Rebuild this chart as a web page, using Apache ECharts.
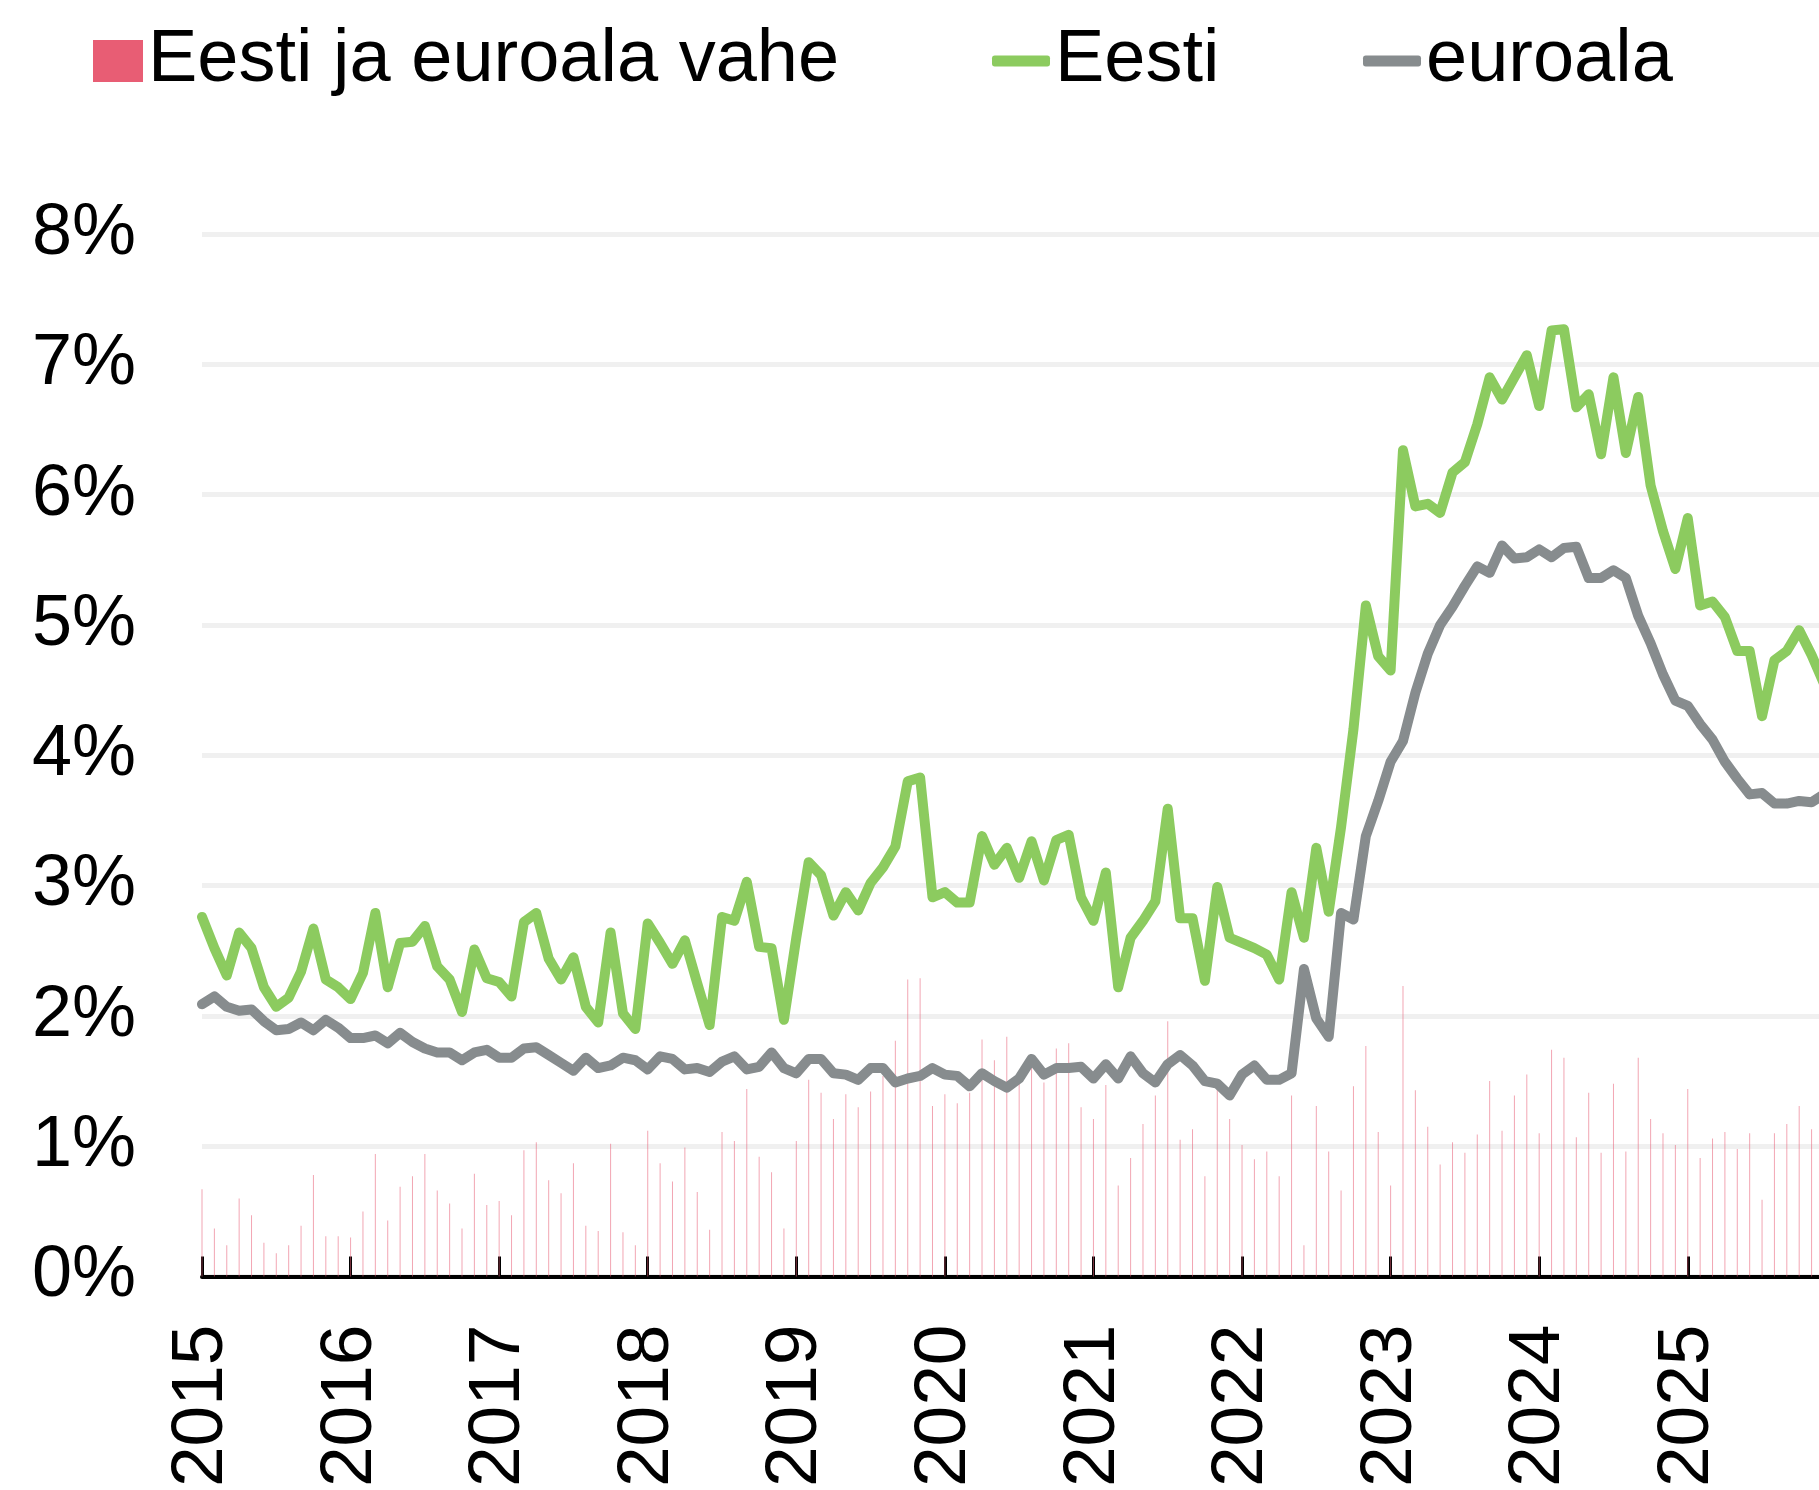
<!DOCTYPE html>
<html lang="et">

<head>
    <meta charset="UTF-8">
    <title>Eesti ja euroala</title>
    <style>
        html,
        body {
            margin: 0;
            padding: 0;
            background: #fff;
        }

        #main {
            width: 1819px;
            height: 1490px;
        }
    </style>
</head>

<body>
    <div id="main"></div>
</body>

<script src="https://cdn.jsdelivr.net/npm/echarts@6.0.0/dist/echarts.min.js"></script>
<script>
    // kuud alates 2015 jaanuarist (0 = jaan 2015)
    var firstYear = 2015;
    var yearTicks = ['2015', '2016', '2017', '2018', '2019', '2020', '2021', '2022', '2023', '2024', '2025'];
    var yTicks = [0, 1, 2, 3, 4, 5, 6, 7, 8];

    // Eesti
    var eesti = [
        2.76, 2.52, 2.31, 2.64, 2.52, 2.22, 2.07, 2.14, 2.34, 2.67, 2.28, 2.22,
        2.13, 2.33, 2.79, 2.22, 2.56, 2.57, 2.69, 2.38, 2.28, 2.03, 2.51, 2.29,
        2.26, 2.15, 2.72, 2.79, 2.44, 2.28, 2.45, 2.07, 1.95, 2.64, 2.02, 1.90,
        2.71, 2.56, 2.40, 2.58, 2.25, 1.93, 2.76, 2.73, 3.03, 2.53, 2.52, 1.97,
        2.60, 3.18, 3.08, 2.77, 2.95, 2.81, 3.02, 3.14, 3.30, 3.80, 3.83, 2.91,
        2.95, 2.87, 2.87, 3.38, 3.16, 3.29, 3.06, 3.34, 3.04, 3.35, 3.39, 2.91,
        2.73, 3.10, 2.22, 2.60, 2.73, 2.88, 3.59, 2.75, 2.75, 2.27, 2.99, 2.60,
        2.56, 2.52, 2.47, 2.28, 2.95, 2.60, 3.29, 2.80, 3.45, 4.20, 5.15, 4.76,
        4.65, 6.34, 5.91, 5.93, 5.86, 6.17, 6.25, 6.54, 6.90, 6.73, 6.90, 7.07,
        6.68, 7.26, 7.27, 6.67, 6.77, 6.31, 6.90, 6.32, 6.75, 6.07, 5.72, 5.43,
        5.82, 5.15, 5.18, 5.06, 4.80, 4.80, 4.30, 4.73, 4.80, 4.96, 4.77, 4.55
    ];

    // euroala
    var euroala = [
        2.09, 2.15, 2.07, 2.04, 2.05, 1.96, 1.89, 1.90, 1.95, 1.89, 1.97, 1.91,
        1.83, 1.83, 1.85, 1.79, 1.87, 1.80, 1.75, 1.72, 1.72, 1.66, 1.72, 1.74,
        1.68, 1.68, 1.75, 1.76, 1.70, 1.64, 1.58, 1.68, 1.60, 1.62, 1.68, 1.66,
        1.59, 1.69, 1.67, 1.59, 1.60, 1.57, 1.65, 1.69, 1.59, 1.61, 1.72, 1.60,
        1.56, 1.67, 1.67, 1.56, 1.55, 1.51, 1.60, 1.60, 1.49, 1.52, 1.54, 1.60,
        1.55, 1.54, 1.46, 1.56, 1.50, 1.45, 1.52, 1.67, 1.55, 1.60, 1.60, 1.61,
        1.52, 1.63, 1.52, 1.69, 1.56, 1.49, 1.63, 1.70, 1.62, 1.50, 1.48, 1.39,
        1.55, 1.62, 1.51, 1.51, 1.56, 2.36, 1.98, 1.84, 2.79, 2.74, 3.38, 3.65,
        3.95, 4.11, 4.48, 4.78, 5.00, 5.14, 5.30, 5.45, 5.40, 5.61, 5.51, 5.52,
        5.58, 5.52, 5.59, 5.60, 5.36, 5.36, 5.42, 5.36, 5.07, 4.86, 4.62, 4.42,
        4.38, 4.24, 4.12, 3.95, 3.82, 3.70, 3.71, 3.63, 3.63, 3.65, 3.64, 3.70
    ];

    // Eesti ja euroala vahe (tulbad)
    var vahe = [
        0.67, 0.37, 0.24, 0.60, 0.47, 0.26, 0.18, 0.24, 0.39, 0.78, 0.31, 0.31,
        0.30, 0.50, 0.94, 0.43, 0.69, 0.77, 0.94, 0.66, 0.56, 0.37, 0.79, 0.55,
        0.58, 0.47, 0.97, 1.03, 0.74, 0.64, 0.87, 0.39, 0.35, 1.02, 0.34, 0.24,
        1.12, 0.87, 0.73, 0.99, 0.65, 0.36, 1.11, 1.04, 1.44, 0.92, 0.80, 0.37,
        1.04, 1.51, 1.41, 1.21, 1.40, 1.30, 1.42, 1.54, 1.81, 2.28, 2.29, 1.31,
        1.40, 1.33, 1.41, 1.82, 1.66, 1.84, 1.54, 1.67, 1.49, 1.75, 1.79, 1.30,
        1.21, 1.47, 0.70, 0.91, 1.17, 1.39, 1.96, 1.05, 1.13, 0.77, 1.51, 1.21,
        1.01, 0.90, 0.96, 0.77, 1.39, 0.24, 1.31, 0.96, 0.66, 1.46, 1.77, 1.11,
        0.70, 2.23, 1.43, 1.15, 0.86, 1.03, 0.95, 1.09, 1.50, 1.12, 1.39, 1.55,
        1.10, 1.74, 1.68, 1.07, 1.41, 0.95, 1.48, 0.96, 1.68, 1.21, 1.10, 1.01,
        1.44, 0.91, 1.06, 1.11, 0.98, 1.10, 0.59, 1.10, 1.17, 1.31, 1.13, 0.85
    ];

    function withMonth(arr) {
        return arr.map(function(v, i) {
            return [i, v];
        });
    }

    var yearValues = yearTicks.map(function(y) {
        return (Number(y) - firstYear) * 12;
    });

    var font = '"Liberation Sans", Arial, sans-serif';
    var legendText = {
        fontFamily: font,
        fontSize: 74,
        color: '#000'
    };

    var myChart = echarts.init(document.getElementById('main'));
    myChart.setOption({
        backgroundColor: '#fff',
        animation: false,
        legend: [{
            left: 93,
            top: 24,
            padding: 0,
            itemWidth: 50,
            itemHeight: 42,
            data: [{
                name: 'Eesti ja euroala vahe',
                icon: 'rect',
                itemStyle: {
                    color: '#e85d74',
                    opacity: 1
                }
            }],
            textStyle: legendText
        }, {
            left: 992,
            top: 24,
            padding: 0,
            itemWidth: 58,
            itemHeight: 11,
            icon: 'roundRect',
            data: ['Eesti'],
            textStyle: legendText
        }, {
            left: 1363,
            top: 24,
            padding: 0,
            itemWidth: 58,
            itemHeight: 11,
            icon: 'roundRect',
            data: ['euroala'],
            textStyle: legendText
        }],
        grid: {
            left: 202,
            right: 0,
            top: 234,
            bottom: 213
        },
        xAxis: {
            type: 'value',
            min: 0,
            max: 130.6,
            interval: 12,
            splitLine: {
                show: false
            },
            axisLine: {
                lineStyle: {
                    color: '#000',
                    width: 4
                }
            },
            axisTick: {
                inside: true,
                length: 20,
                customValues: yearValues,
                lineStyle: {
                    color: '#000',
                    width: 3
                }
            },
            axisLabel: {
                rotate: 90,
                margin: 48,
                customValues: yearValues,
                fontFamily: font,
                fontSize: 73,
                color: '#000',
                formatter: function(v) {
                    if (v % 12 !== 0) return '';
                    return String(firstYear + v / 12);
                }
            }
        },
        yAxis: {
            type: 'value',
            min: yTicks[0],
            max: yTicks[yTicks.length - 1],
            interval: 1,
            axisLine: {
                show: false
            },
            axisTick: {
                show: false
            },
            splitLine: {
                lineStyle: {
                    color: '#f0f0f0',
                    width: 5
                }
            },
            axisLabel: {
                margin: 66,
                fontFamily: font,
                fontSize: 72,
                color: '#000',
                formatter: '{value}%'
            }
        },
        series: [{
            name: 'Eesti ja euroala vahe',
            type: 'bar',
            data: withMonth(vahe),
            barWidth: 1,
            itemStyle: {
                color: 'rgba(232, 93, 116, 0.55)'
            },
            z: 1
        }, {
            name: 'Eesti',
            type: 'line',
            data: withMonth(eesti),
            symbol: 'none',
            showSymbol: false,
            clip: true,
            itemStyle: {
                color: '#8ccb5f'
            },
            lineStyle: {
                color: '#8ccb5f',
                width: 10,
                join: 'round',
                cap: 'round'
            },
            z: 3
        }, {
            name: 'euroala',
            type: 'line',
            data: withMonth(euroala),
            symbol: 'none',
            showSymbol: false,
            clip: true,
            itemStyle: {
                color: '#878c8e'
            },
            lineStyle: {
                color: '#878c8e',
                width: 10,
                join: 'round',
                cap: 'round'
            },
            z: 3
        }]
    });
</script>

</html>
